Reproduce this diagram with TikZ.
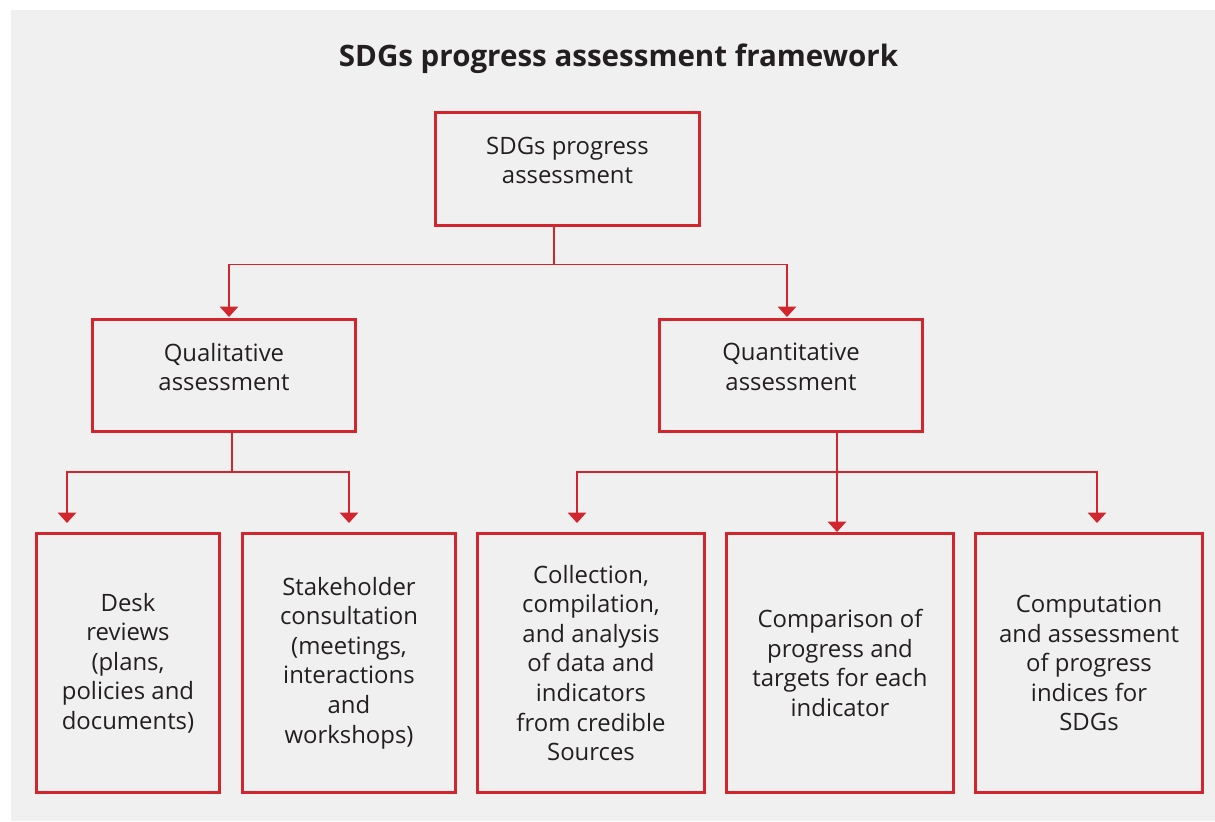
\documentclass[tikz,border=0pt]{standalone}
\usepackage{fontspec}
\setmainfont{Open Sans}
\usetikzlibrary{arrows.meta}

\definecolor{sdgred}{HTML}{D2262E}
\definecolor{panelgray}{HTML}{F0F0F0}
\definecolor{textgray}{HTML}{231F20}

\tikzset{
    box/.style={draw=sdgred, line width=2.2pt, inner sep=0pt},
    txt/.style={text=textgray, align=center, font=\fontsize{17}{21}\selectfont},
    link/.style={draw=sdgred, line width=1pt},
    arr/.style={link, -{Triangle[width=0.46cm,length=0.26cm]}}
}

\begin{document}
\begin{tikzpicture}[x=0.025cm, y=-0.025cm]

% Page and panel
\useasboundingbox (0,0) rectangle (1215,821);
\fill[panelgray] (11,10) rectangle (1215,821);

% Title
\node[anchor=base, text=textgray, font=\bfseries\fontsize{21}{25}\selectfont] (title)
    at (618.5,66.7) {SDGs progress assessment framework};

% Upper levels
\node[box, minimum width=6.6cm, minimum height=2.82cm] (root) at (567.5,169) {};
\node[txt] (root-t) at ([yshift=0.21cm]root.center) {SDGs progress\\assessment};

\node[box, minimum width=6.57cm, minimum height=2.8cm] (qual) at (224,375.5) {};
\node[txt] (qual-t) at ([yshift=0.21cm]qual.center) {Qualitative\\assessment};

\node[box, minimum width=6.57cm, minimum height=2.8cm] (quant) at (791,375.5) {};
\node[txt] (quant-t) at ([yshift=0.21cm]quant.center) {Quantitative\\assessment};

% Bottom level
\node[box, txt, minimum width=4.57cm, minimum height=6.47cm] (desk) at (128,663)
    {Desk\\reviews\\(plans,\\policies and\\documents)};
\node[box, txt, minimum width=5.32cm, minimum height=6.47cm] (stake) at (349,663)
    {Stakeholder\\consultation\\(meetings,\\interactions\\and\\workshops)};
\node[box, txt, minimum width=5.67cm, minimum height=6.47cm] (collect) at (591,663)
    {Collection,\\compilation,\\and analysis\\of data and\\indicators\\from credible\\Sources};
\node[box, txt, minimum width=5.67cm, minimum height=6.47cm] (compare) at (840,663)
    {Comparison of\\progress and\\targets for each\\indicator};
\node[box, txt, minimum width=5.67cm, minimum height=6.47cm] (compute) at (1089,663)
    {Computation\\and assessment\\of progress\\indices for\\SDGs};

% Connector joints and arrow ends
\coordinate (root-j) at (554,264.3);
\coordinate (qual-in) at (229,317);
\coordinate (quant-in) at (787,317);
\coordinate (qual-j) at (232,472);
\coordinate (desk-in) at (67,523);
\coordinate (stake-in) at (349,523);
\coordinate (quant-j) at (837,472);
\coordinate (collect-in) at (577,523);
\coordinate (compute-in) at (1097,523);

% Root to second level
\draw[link] (root.south -| root-j) -- (root-j);
\draw[arr] (root-j) -| (qual-in);
\draw[arr] (root-j) -| (quant-in);

% Qualitative branch
\draw[link] (qual.south -| qual-j) -- (qual-j);
\draw[arr] (qual-j) -| (desk-in);
\draw[arr] (qual-j) -| (stake-in);

% Quantitative branch
\draw[arr] (quant.south -| quant-j) -- (compare.north -| quant-j);
\draw[arr] (quant-j) -| (collect-in);
\draw[arr] (quant-j) -| (compute-in);

\end{tikzpicture}
\end{document}
